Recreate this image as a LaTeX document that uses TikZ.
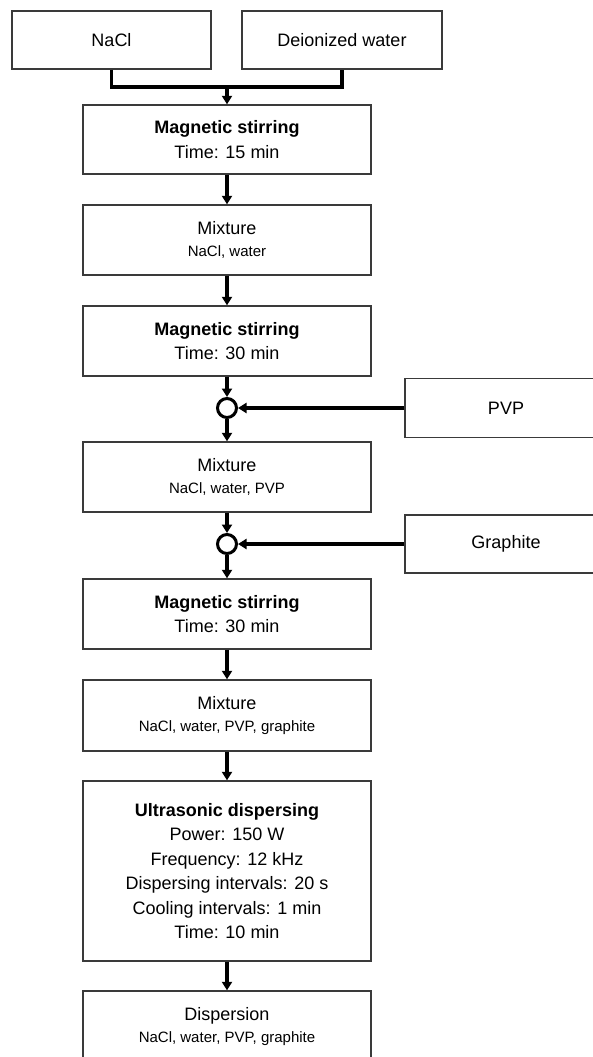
\documentclass[tikz,border=0pt]{standalone}
\usepackage{fontspec}
\setmainfont{Liberation Sans}
\usetikzlibrary{arrows.meta}
\definecolor{boxgray}{HTML}{3A3A3A}
\begin{document}
\begin{tikzpicture}[x=1pt,y=-1pt,
  box/.style={draw=boxgray, line width=1.4pt, fill=white, align=center, inner sep=0pt,
    font=\fontsize{18}{24.5}\selectfont},
  mainbox/.style={box, minimum width=288pt, minimum height=70pt},
  sidebox/.style={box, minimum width=202pt, minimum height=59pt},
  conn/.style={line width=3.3pt, -{Triangle[length=8.5pt,width=10pt]}},
  plainconn/.style={line width=3.3pt},
  joint/.style={circle, draw=black, line width=3pt, fill=white, minimum size=19pt, inner sep=0pt}
]
\useasboundingbox (0,0) rectangle (593,1057);
\newcommand{\sm}[1]{{\fontsize{15}{18}\selectfont #1}}

\node[box, minimum width=199pt, minimum height=58pt] (nacl) at (111.5,40) {NaCl};
\node[box, minimum width=200pt, minimum height=58pt] (dw) at (342,40) {Deionized water};
\coordinate (j) at (227,87);

\node[mainbox, minimum height=69pt] (mag1) at (227,139.5) {\textbf{Magnetic stirring}\\Time: 15 min};
\node[mainbox] (mix1) at (227,240) {Mixture\\[-3pt]\sm{NaCl, water}};
\node[mainbox] (mag2) at (227,341) {\textbf{Magnetic stirring}\\Time: 30 min};
\node[joint] (c1) at (227,408) {};
\node[sidebox] (pvp) at (506,408) {PVP};
\node[mainbox] (mix2) at (227,477) {Mixture\\[-3pt]\sm{NaCl, water, PVP}};
\node[joint] (c2) at (227,544) {};
\node[sidebox, minimum height=58pt] (gr) at (506,544) {Graphite};
\node[mainbox] (mag3) at (227,614) {\textbf{Magnetic stirring}\\Time: 30 min};
\node[mainbox, minimum height=71pt] (mix3) at (227,715.5) {Mixture\\[-3pt]\sm{NaCl, water, PVP, graphite}};
\node[mainbox, minimum height=180pt] (us) at (227,871) {\textbf{Ultrasonic dispersing}\\Power: 150 W\\Frequency: 12 kHz\\Dispersing intervals: 20 s\\Cooling intervals: 1 min\\Time: 10 min};
\node[mainbox, minimum height=71pt] (disp) at (227,1026.5) {Dispersion\\[-3pt]\sm{NaCl, water, PVP, graphite}};

\draw[plainconn] (nacl.south) |- (j) -| (dw.south);
\draw[conn] (j) -- (mag1.north);
\draw[conn] (mag1.south) -- (mix1.north);
\draw[conn] (mix1.south) -- (mag2.north);
\draw[conn] (mag2.south) -- (c1.north);
\draw[conn] (pvp.west) -- (c1.east);
\draw[conn] (c1.south) -- (mix2.north);
\draw[conn] (mix2.south) -- (c2.north);
\draw[conn] (gr.west) -- (c2.east);
\draw[conn] (c2.south) -- (mag3.north);
\draw[conn] (mag3.south) -- (mix3.north);
\draw[conn] (mix3.south) -- (us.north);
\draw[conn] (us.south) -- (disp.north);
\end{tikzpicture}
\end{document}
